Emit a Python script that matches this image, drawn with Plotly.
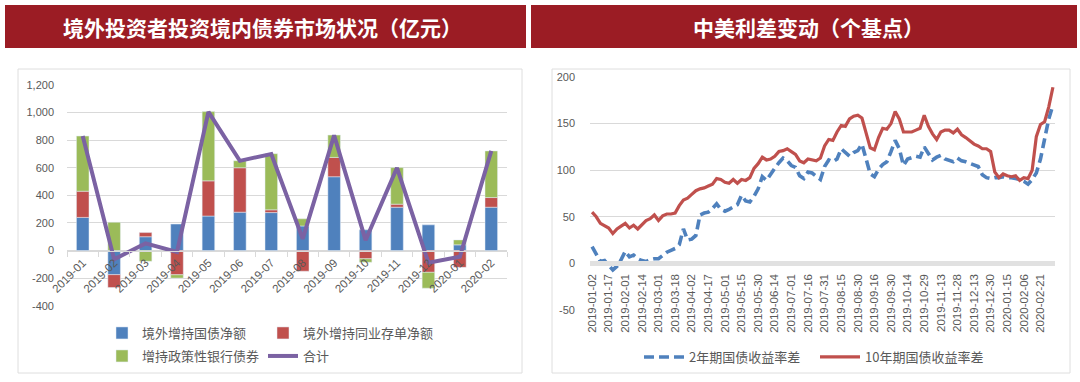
import plotly.graph_objects as go

# ---------------- data: left chart (亿元) ----------------
MONTHS = ["2019-01", "2019-02", "2019-03", "2019-04", "2019-05", "2019-06", "2019-07",
          "2019-08", "2019-09", "2019-10", "2019-11", "2019-12", "2020-01", "2020-02"]
GOV_BONDS = [240, -175, 100, 192, 250, 278, 275, 178, 535, 150, 314, 186, 41, 314]
NCD = [190, -93, 30, -176, 255, 322, 20, -150, 140, -60, 22, -158, -122, 70]
POLICY_BANK = [400, 205, -78, -24, 502, 51, 407, 52, 162, -25, 265, -115, 36, 338]
TOTAL = [830, -63, 52, -10, 1005, 650, 700, 85, 835, 75, 600, -88, -45, 722]
LEFT_YTICKS = [-400, -200, 0, 200, 400, 600, 800, 1000, 1200]
LEFT_YTEXT = ["-400", "-200", "0", "200", "400", "600", "800", "1,000", "1,200"]

# ---------------- data: right chart (bp) ----------------
DATES = [
    "2019-01-02", "2019-01-07", "2019-01-10", "2019-01-14",
    "2019-01-17", "2019-01-22", "2019-01-25", "2019-01-29",
    "2019-02-01", "2019-02-05", "2019-02-08", "2019-02-11",
    "2019-02-14", "2019-02-19", "2019-02-22", "2019-02-26",
    "2019-03-01", "2019-03-06", "2019-03-11", "2019-03-14",
    "2019-03-18", "2019-03-21", "2019-03-26", "2019-03-29",
    "2019-04-02", "2019-04-05", "2019-04-10", "2019-04-12",
    "2019-04-17", "2019-04-22", "2019-04-25", "2019-04-29",
    "2019-05-01", "2019-05-06", "2019-05-08", "2019-05-13",
    "2019-05-15", "2019-05-20", "2019-05-23", "2019-05-27",
    "2019-05-30", "2019-06-04", "2019-06-07", "2019-06-11",
    "2019-06-14", "2019-06-19", "2019-06-24", "2019-06-27",
    "2019-07-01", "2019-07-05", "2019-07-09", "2019-07-12",
    "2019-07-16", "2019-07-19", "2019-07-24", "2019-07-26",
    "2019-07-31", "2019-08-05", "2019-08-08", "2019-08-12",
    "2019-08-15", "2019-08-20", "2019-08-23", "2019-08-27",
    "2019-08-30", "2019-09-04", "2019-09-09", "2019-09-12",
    "2019-09-16", "2019-09-19", "2019-09-24", "2019-09-26",
    "2019-09-30", "2019-10-03", "2019-10-08", "2019-10-10",
    "2019-10-14", "2019-10-17", "2019-10-22", "2019-10-25",
    "2019-10-29", "2019-11-01", "2019-11-06", "2019-11-08",
    "2019-11-13", "2019-11-18", "2019-11-21", "2019-11-25",
    "2019-11-28", "2019-12-03", "2019-12-06", "2019-12-10",
    "2019-12-13", "2019-12-18", "2019-12-20", "2019-12-25",
    "2019-12-30", "2020-01-03", "2020-01-08", "2020-01-10",
    "2020-01-15", "2020-01-20", "2020-01-23", "2020-02-03",
    "2020-02-06", "2020-02-11", "2020-02-13", "2020-02-18",
    "2020-02-21", "2020-02-26", "2020-03-02", "2020-03-05",
]
SPREAD_10Y = [
    55, 50, 43, 40, 38, 32, 37, 40, 43, 38, 41, 37, 42, 46, 48, 52,
    46, 51, 53, 53, 54, 62, 68, 70, 74, 78, 80, 81, 83, 85, 91, 90,
    87, 86, 90, 86, 90, 89, 92, 102, 107, 114, 111, 112, 115, 120, 121, 123,
    120, 117, 110, 108, 112, 111, 110, 113, 126, 133, 132, 141, 148, 147, 155, 158,
    159, 156, 140, 124, 122, 135, 145, 144, 150, 163, 155, 141, 141, 141, 143, 145,
    159, 147, 139, 133, 141, 143, 143, 140, 144, 138, 135, 131, 128, 126, 123, 123,
    120, 98, 92, 96, 94, 93, 94, 89, 92, 91, 100, 136, 149, 152, 168, 189,
]
SPREAD_2Y = [
    18, 10, 2, 3, -2, -7, -3, 4, 13, 7, 9, 5, 3, 2, 4, 5,
    5, 9, 12, 14, 16, 20, 37, 25, 26, 30, 52, 54, 55, 59, 64, 58,
    56, 58, 60, 63, 73, 67, 66, 72, 80, 93, 89, 96, 102, 108, 113, 110,
    105, 103, 94, 91, 98, 97, 93, 90, 104, 111, 109, 112, 123, 119, 115, 119,
    121, 128, 113, 96, 93, 101, 106, 109, 120, 132, 123, 105, 112, 113, 115, 114,
    125, 118, 111, 114, 116, 112, 110, 109, 113, 110, 109, 107, 106, 104, 95, 92,
    91, 92, 92, 93, 92, 92, 91, 90, 88, 85, 90, 97, 112, 135, 155, 170,
]
DATE_LABELS = [
    "2019-01-02", "2019-01-17", "2019-02-01", "2019-02-14", "2019-03-01", "2019-03-18",
    "2019-04-02", "2019-04-17", "2019-05-01", "2019-05-15", "2019-05-30", "2019-06-14",
    "2019-07-01", "2019-07-16", "2019-07-31", "2019-08-15", "2019-08-30", "2019-09-16",
    "2019-09-30", "2019-10-14", "2019-10-29", "2019-11-13", "2019-11-28", "2019-12-13",
    "2019-12-30", "2020-01-15", "2020-02-06", "2020-02-21",
]
RIGHT_YTICKS = [-50, 0, 50, 100, 150, 200]
RIGHT_YTEXT = ["-50", "0", "50", "100", "150", "200"]

LEFT_TITLE = "境外投资者投资境内债券市场状况（亿元）"
RIGHT_TITLE = "中美利差变动（个基点）"

# ---------------- layout helpers ----------------
W, H = 1080, 382


def px(x):
    return x / W


def py(y):
    return 1 - y / H


CJK = "Noto Sans CJK SC"
TICK_FONT = dict(family="Liberation Sans, Noto Sans CJK SC", size=11, color="#595959")
LEG_FONT = dict(family=CJK, size=13, color="#595959")
GRID = "#d9d9d9"

BLUE = "#4f81bd"
RED = "#c0504d"
GREEN = "#9bbb59"
PURPLE = "#7b62a3"

fig = go.Figure()

# ---- left chart traces ----
fig.add_trace(go.Bar(x=MONTHS, y=GOV_BONDS, name="境外增持国债净额", marker_color=BLUE,
                     xaxis="x", yaxis="y", legend="legend"))
fig.add_trace(go.Bar(x=MONTHS, y=NCD, name="境外增持同业存单净额", marker_color=RED,
                     xaxis="x", yaxis="y", legend="legend2"))
fig.add_trace(go.Bar(x=MONTHS, y=POLICY_BANK, name="增持政策性银行债券", marker_color=GREEN,
                     xaxis="x", yaxis="y", legend="legend3"))
fig.add_trace(go.Scatter(x=MONTHS, y=TOTAL, name="合计", mode="lines",
                         line=dict(color=PURPLE, width=4),
                         xaxis="x", yaxis="y", legend="legend4"))

# ---- right chart traces ----
fig.add_trace(go.Scatter(x=DATES, y=SPREAD_2Y, name="2年期国债收益率差", mode="lines",
                         line=dict(color=BLUE, width=3.6, dash="10px,5px"),
                         xaxis="x2", yaxis="y2", legend="legend5"))
fig.add_trace(go.Scatter(x=DATES, y=SPREAD_10Y, name="10年期国债收益率差", mode="lines",
                         line=dict(color=RED, width=3.2),
                         xaxis="x2", yaxis="y2", legend="legend6"))

# ---- axes geometry ----
L_XD = [px(67), px(507)]
L_YD = [py(305.7), py(85)]
L_YR = [-400, 1200]
L_POS = L_YD[0] + (0 - L_YR[0]) / (L_YR[1] - L_YR[0]) * (L_YD[1] - L_YD[0])

R_XD = [px(590), px(1055)]
R_YD = [py(310), py(77)]
R_YR = [-50, 200]
R_POS = R_YD[0] + (0 - R_YR[0]) / (R_YR[1] - R_YR[0]) * (R_YD[1] - R_YD[0])


def leg(x, y, iw=30):
    return dict(orientation="h", x=px(x), y=py(y), xanchor="left", yanchor="middle",
                font=LEG_FONT, bgcolor="rgba(0,0,0,0)", itemwidth=iw, borderwidth=0)


fig.update_layout(
    width=W, height=H, autosize=False,
    margin=dict(l=0, r=0, t=0, b=0, autoexpand=False),
    paper_bgcolor="white", plot_bgcolor="white",
    barmode="relative", bargap=0.6,
    xaxis=dict(domain=L_XD, type="category", range=[-0.5, len(MONTHS) - 0.5],
               anchor="free", position=L_POS, automargin=False,
               showline=True, linecolor=GRID, linewidth=1,
               ticks="outside", tickson="boundaries", ticklen=5, tickcolor=GRID,
               tickangle=-45, tickfont=dict(TICK_FONT, size=11.5),
               showgrid=False, zeroline=False),
    yaxis=dict(domain=L_YD, range=L_YR, anchor="x", automargin=False,
               tickvals=LEFT_YTICKS, ticktext=LEFT_YTEXT, tickfont=TICK_FONT,
               showgrid=True, gridcolor=GRID, gridwidth=1, zeroline=False,
               showline=False, ticks="", ticklabelstandoff=12),
    xaxis2=dict(domain=R_XD, type="category", categoryorder="array", categoryarray=DATES,
                range=[-0.5, len(DATES) - 0.5], anchor="free", position=R_POS,
                automargin=False,
                tickvals=DATE_LABELS, ticktext=DATE_LABELS, tickangle=-90,
                tickfont=dict(family="Liberation Sans", size=11.5, color="#595959"),
                showline=True, linecolor="#e1e1e1", linewidth=5,
                ticks="", showgrid=False, zeroline=False, ticklabelstandoff=3),
    yaxis2=dict(domain=R_YD, range=R_YR, anchor="x2", automargin=False,
                tickvals=RIGHT_YTICKS, ticktext=RIGHT_YTEXT, tickfont=TICK_FONT,
                showgrid=True, gridcolor=GRID, gridwidth=1, zeroline=False,
                showline=False, ticks="", ticklabelstandoff=14),
    legend=leg(102, 333),
    legend2=leg(263, 333),
    legend3=leg(102, 356),
    legend4=leg(263, 356),
    legend5=leg(639, 357, 40),
    legend6=leg(815, 357, 40),
    showlegend=True,
)

# ---- title bars and frames ----
TITLE_RED = "#9b1c24"
shapes = [
    dict(type="rect", xref="paper", yref="paper", x0=px(5), x1=px(526), y0=py(48), y1=py(5),
         fillcolor=TITLE_RED, line=dict(width=0), layer="below"),
    dict(type="rect", xref="paper", yref="paper", x0=px(531), x1=px(1077), y0=py(48), y1=py(5),
         fillcolor=TITLE_RED, line=dict(width=0), layer="below"),
    dict(type="rect", xref="paper", yref="paper", x0=px(18), x1=px(522), y0=py(373), y1=py(69),
         fillcolor="rgba(0,0,0,0)", line=dict(width=1, color="#dedede"), layer="below"),
    dict(type="rect", xref="paper", yref="paper", x0=px(552), x1=px(1070), y0=py(373), y1=py(69),
         fillcolor="rgba(0,0,0,0)", line=dict(width=1, color="#dedede"), layer="below"),
]
annotations = [
    dict(text=LEFT_TITLE, xref="paper", yref="paper", x=px(262), y=py(27), showarrow=False,
         xanchor="center", yanchor="middle",
         font=dict(family=CJK, size=21, color="white", weight="bold")),
    dict(text=RIGHT_TITLE, xref="paper", yref="paper", x=px(808), y=py(27), showarrow=False,
         xanchor="center", yanchor="middle",
         font=dict(family=CJK, size=21, color="white", weight="bold")),
]
fig.update_layout(shapes=shapes, annotations=annotations)

fig.write_html(
    "out.html",
    config={"displayModeBar": False},
    post_script="document.body.style.margin='0';document.body.style.overflow='hidden';",
)
